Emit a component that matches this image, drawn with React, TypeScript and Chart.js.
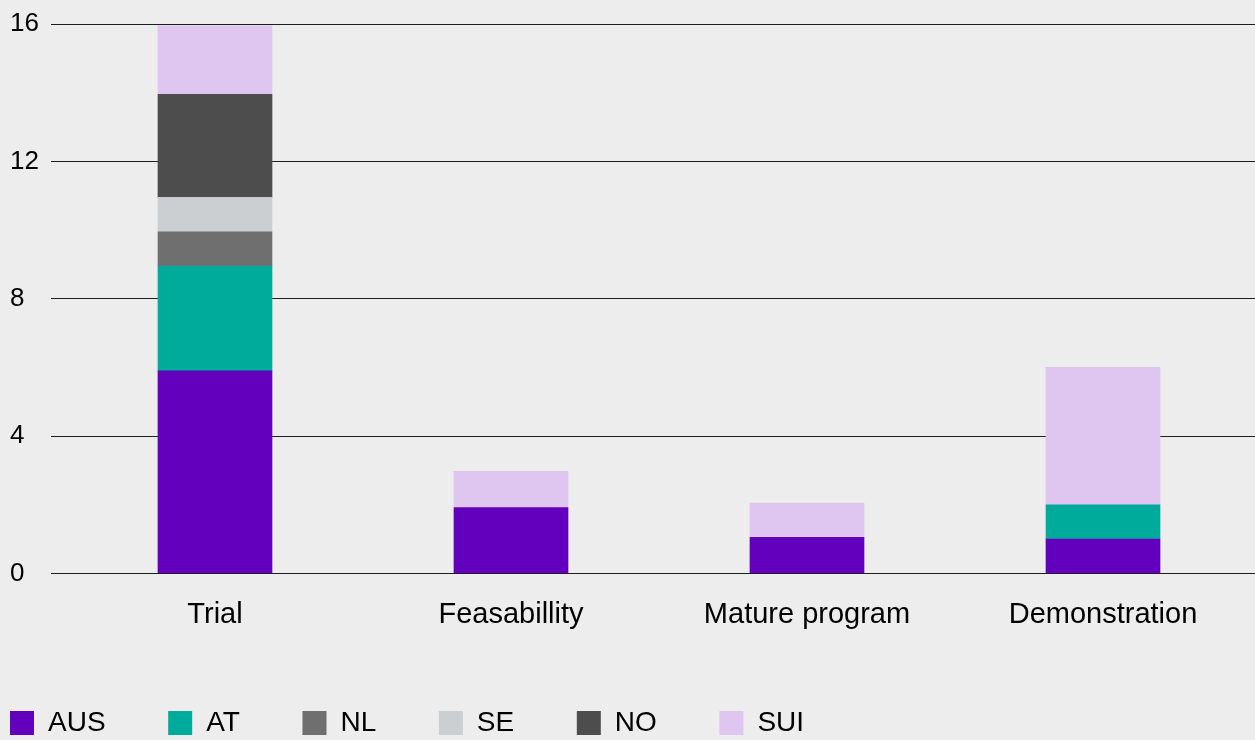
import React, { useEffect, useRef } from 'react';
import { Chart, registerables } from 'chart.js';

Chart.register(...registerables);

const categories = ['Trial', 'Feasabillity', 'Mature program', 'Demonstration'];
const seriesNames = ['AUS', 'AT', 'NL', 'SE', 'NO', 'SUI'];
const AUS = [5.9, 1.92, 1.05, 1];
const AT = [3.05, null, null, 1];
const NL = [1, null, null, null];
const SE = [1, null, null, null];
const NO = [3, null, null, null];
const SUI = [2, 1.05, 1, 4];
const yTicks = [0, 4, 8, 12, 16];
const seriesColors = ['#6200BE', '#00AB9B', '#6F6F6F', '#CBCFD2', '#4D4D4D', '#DEC6F0'];

const FONT = '"Liberation Sans", Arial, Helvetica, sans-serif';

export default function App() {
  const ref = useRef<HTMLCanvasElement | null>(null);

  useEffect(() => {
    if (!ref.current) return;
    const values = [AUS, AT, NL, SE, NO, SUI];
    const chart = new Chart(ref.current, {
      type: 'bar',
      data: {
        datasets: seriesNames.map((name, k) => ({
          label: name,
          data: values[k].map((v, i) => ({ x: i, y: v })),
          backgroundColor: seriesColors[k],
          borderWidth: 0,
          barThickness: 114,
        })),
      },
      options: {
        animation: false,
        responsive: false,
        layout: { padding: { top: 24, left: -52.6, right: 0, bottom: -7 } },
        plugins: {
          tooltip: { enabled: false },
          legend: {
            position: 'bottom',
            align: 'start',
            labels: {
              boxWidth: 24,
              boxHeight: 24,
              padding: 62.6,
              color: '#000',
              font: { size: 28, family: FONT },
            },
          },
        },
        scales: {
          x: {
            type: 'linear',
            stacked: true,
            offset: false,
            min: -0.554,
            max: 3.5135,
            grid: { display: false },
            border: { display: false },
            afterBuildTicks: (s: any) => {
              s.ticks = categories.map((_, i) => ({ value: i }));
            },
            afterFit: (s: any) => {
              s.height = 73;
            },
            ticks: {
              autoSkip: false,
              maxRotation: 0,
              padding: 16,
              color: '#000',
              font: { size: 29, family: FONT },
              callback: (v: any) => categories[v] ?? '',
            },
          },
          y: {
            type: 'linear',
            stacked: true,
            min: 0,
            max: 16,
            position: 'left',
            afterBuildTicks: (s: any) => {
              s.ticks = yTicks.map((v) => ({ value: v }));
            },
            afterFit: (s: any) => {
              s.width = 103.6;
            },
            grid: { color: '#1e1e1e', lineWidth: 1, drawTicks: false },
            border: { display: false },
            ticks: {
              mirror: true,
              crossAlign: 'near',
              padding: -41,
              color: '#000',
              font: { size: 26, family: FONT },
            },
          },
        },
      },
    } as any);
    return () => chart.destroy();
  }, []);

  return (
    <div style={{ position: 'fixed', left: 0, top: 0, width: 1255, height: 740, background: '#EDEDED' }}>
      <canvas ref={ref} width={1255} height={740} style={{ display: 'block', width: 1255, height: 740 }} />
    </div>
  );
}
